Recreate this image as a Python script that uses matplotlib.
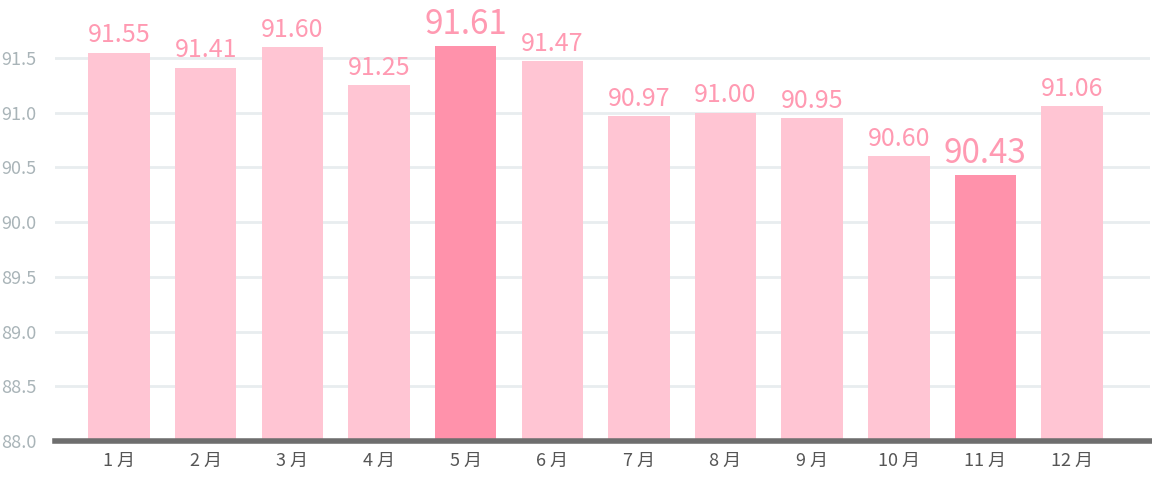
import matplotlib
matplotlib.use("Agg")
import matplotlib.pyplot as plt

plt.rcParams['font.family'] = ['Noto Sans CJK JP', 'DejaVu Sans']

months = ["1 月", "2 月", "3 月", "4 月", "5 月", "6 月", "7 月", "8 月", "9 月", "10 月", "11 月", "12 月"]
values = [91.55, 91.41, 91.60, 91.25, 91.61, 91.47, 90.97, 91.00, 90.95, 90.60, 90.43, 91.06]
highlight = [4, 10]
yticks = [88.0, 88.5, 89.0, 89.5, 90.0, 90.5, 91.0, 91.5]

fig = plt.figure(figsize=(11.52, 4.83), dpi=100)
ax = fig.add_axes([55/1152, 42/483, (1150-55)/1152, 1 - 42/483])
ax.set_ylim(88, 92.03)
ax.set_xlim(-0.74, 11.9)

x = list(range(len(months)))
colors = ['#FF92AB' if i in highlight else '#FFC5D3' for i in x]
ax.bar(x, [v - 88 for v in values], bottom=88, width=0.71, color=colors, zorder=3)

for i, v in zip(x, values):
    big = i in highlight
    ax.text(i, v + 0.04, f"{v:.2f}", ha='center', va='bottom',
            color='#FF9AB2', fontsize=24 if big else 18, zorder=4)

ax.set_yticks(yticks)
ax.set_yticklabels([f"{t:.1f}" for t in yticks], color='#A9B4B8', fontsize=13)
ax.yaxis.grid(True, color='#E8EDEF', linewidth=2, zorder=0)
ax.set_xticks(x)
ax.set_xticklabels(months, color='#555555', fontsize=13)
ax.tick_params(length=0)
ax.tick_params(axis='x', pad=8)
for s in ['top', 'right', 'left']:
    ax.spines[s].set_visible(False)
ax.spines['bottom'].set_color('#6E6E6E')
ax.spines['bottom'].set_linewidth(4)
ax.spines['bottom'].set_zorder(5)
for lab in ax.get_yticklabels():
    lab.set_ha('left')
ax.yaxis.set_tick_params(pad=39)

fig.savefig("out.png", dpi=100)
